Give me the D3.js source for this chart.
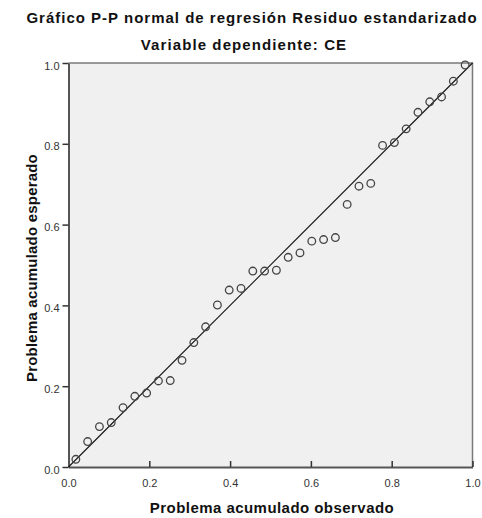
<!DOCTYPE html>
<html>
<head>
<meta charset="utf-8">
<script src="https://cdn.jsdelivr.net/npm/d3@7/dist/d3.min.js"></script>
<style>
  html, body { margin: 0; padding: 0; background: #ffffff; }
  svg { display: block; font-family: Arial, "Liberation Sans", sans-serif; }
</style>
</head>
<body>
<svg id="chart" width="482" height="518"></svg>
<script>
// Observed cumulative probability of the standardized residuals (n = 34)
const observedCumProb = [
  0.0182, 0.0474, 0.0766, 0.1058, 0.1350, 0.1642, 0.1934, 0.2226, 0.2518, 0.2810,
  0.3102, 0.3394, 0.3686, 0.3978, 0.4270, 0.4562, 0.4854, 0.5146, 0.5438, 0.5730,
  0.6022, 0.6314, 0.6606, 0.6898, 0.7190, 0.7482, 0.7774, 0.8066, 0.8358, 0.8650,
  0.8942, 0.9234, 0.9526, 0.9818
];
// Expected cumulative probability under the normal distribution
const expectedCumProb = [
  0.019, 0.063, 0.100, 0.110, 0.147, 0.175, 0.183, 0.213, 0.214, 0.264,
  0.308, 0.347, 0.401, 0.438, 0.442, 0.485, 0.485, 0.487, 0.519, 0.530,
  0.559, 0.563, 0.568, 0.650, 0.695, 0.702, 0.796, 0.803, 0.837, 0.878,
  0.904, 0.916, 0.955, 0.995
];
const tickValues = [0, 0.2, 0.4, 0.6, 0.8, 1.0];

const titleText = "Gráfico P-P normal de regresión Residuo estandarizado";
const subtitleText = "Variable dependiente: CE";
const xLabel = "Problema acumulado observado";
const yLabel = "Problema acumulado esperado";

const svg = d3.select("#chart");
const plot = { left: 68.5, top: 63, right: 472.5, bottom: 467 };

const x = d3.scaleLinear().domain([0, 1]).range([plot.left, plot.right]);
const y = d3.scaleLinear().domain([0, 1]).range([plot.bottom, plot.top]);

// Plot background
svg.append("rect")
  .attr("x", plot.left).attr("y", plot.top)
  .attr("width", plot.right - plot.left).attr("height", plot.bottom - plot.top)
  .attr("fill", "#f0f0f0");

// Top and right frame
svg.append("path")
  .attr("d", `M${plot.left},${plot.top}H${plot.right}V${plot.bottom}`)
  .attr("fill", "none").attr("stroke", "#7a7a7a").attr("stroke-width", 1.5);

// Axes
const fmt = d3.format(".1f");
const xAxis = svg.append("g")
  .attr("transform", `translate(0,${plot.bottom})`)
  .call(d3.axisBottom(x).tickValues(tickValues).tickFormat(fmt).tickSize(6).tickSizeOuter(0));
const yAxis = svg.append("g")
  .attr("transform", `translate(${plot.left},0)`)
  .call(d3.axisLeft(y).tickValues(tickValues).tickFormat(fmt).tickSize(6).tickSizeOuter(0));

[xAxis, yAxis].forEach(g => {
  g.select(".domain").attr("stroke", "#555").attr("stroke-width", 2);
  g.selectAll(".tick line").attr("stroke", "#333").attr("stroke-width", 1.5);
  g.selectAll(".tick text")
    .attr("fill", "#333")
    .style("font-size", "11px")
    .style("font-family", "Arial, 'Liberation Sans', sans-serif");
});
xAxis.selectAll(".tick line").attr("y2", 6).attr("transform", "translate(0,-6)");
xAxis.selectAll(".tick text").attr("y", 12);
yAxis.selectAll(".tick line").attr("x2", -6);
yAxis.selectAll(".tick text").attr("x", -9).attr("dy", "0.55em");

// Reference diagonal
svg.append("line")
  .attr("x1", x(0)).attr("y1", y(0))
  .attr("x2", x(1)).attr("y2", y(1))
  .attr("stroke", "#111").attr("stroke-width", 1.1);

// Points
const pts = observedCumProb.map((v, i) => ({ x: v, y: expectedCumProb[i] }));
svg.append("g").selectAll("circle")
  .data(pts).join("circle")
  .attr("cx", d => x(d.x)).attr("cy", d => y(d.y))
  .attr("r", 3.8)
  .attr("fill", "none")
  .attr("stroke", "#444")
  .attr("stroke-width", 1.3);

// Titles
svg.append("text")
  .attr("x", 252).attr("y", 23)
  .attr("text-anchor", "middle")
  .style("font-size", "15px").style("font-weight", "bold")
  .style("letter-spacing", "1px")
  .attr("fill", "#111")
  .text(titleText);
svg.append("text")
  .attr("x", 244).attr("y", 50)
  .attr("text-anchor", "middle")
  .style("font-size", "15px").style("font-weight", "bold")
  .style("letter-spacing", "1.1px")
  .attr("fill", "#111")
  .text(subtitleText);

// Axis labels
svg.append("text")
  .attr("x", 272).attr("y", 513)
  .attr("text-anchor", "middle")
  .style("font-size", "15px").style("font-weight", "bold")
  .style("letter-spacing", "0.45px")
  .attr("fill", "#111")
  .text(xLabel);
svg.append("text")
  .attr("transform", `translate(36.5,268) rotate(-90)`)
  .attr("text-anchor", "middle")
  .style("font-size", "15px").style("font-weight", "bold")
  .style("letter-spacing", "0.2px")
  .attr("fill", "#111")
  .text(yLabel);
</script>
</body>
</html>
